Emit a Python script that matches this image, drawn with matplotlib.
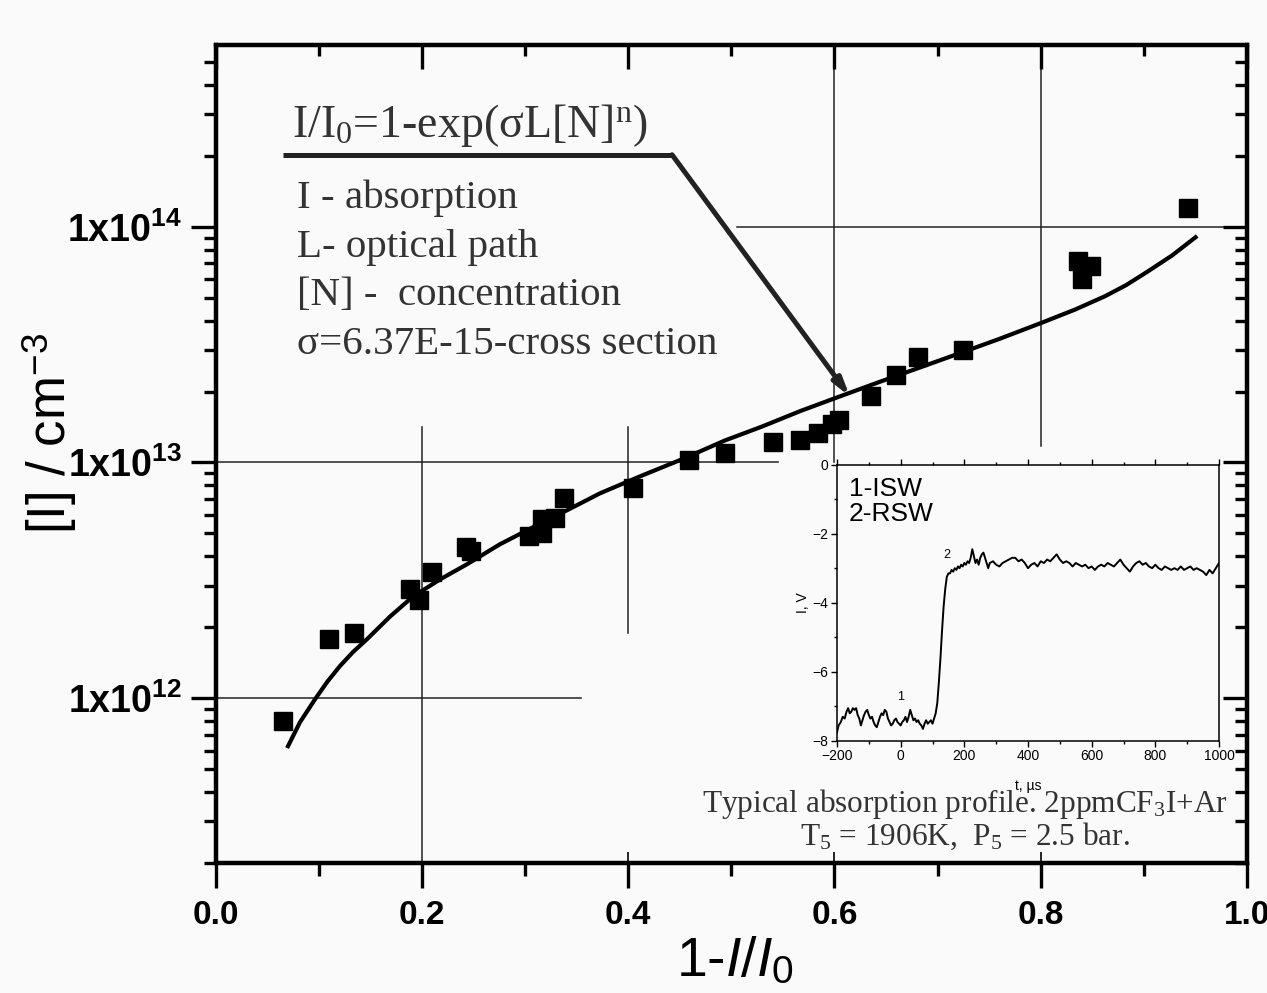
import numpy as np
import matplotlib.pyplot as plt
from matplotlib.ticker import LogLocator, NullFormatter, MultipleLocator

plt.rcParams.update({
    'font.family': 'Liberation Sans',
    'mathtext.fontset': 'custom',
    'mathtext.rm': 'Liberation Serif',
    'mathtext.it': 'Liberation Sans:italic',
    'mathtext.bf': 'Liberation Sans:bold',
    'mathtext.sf': 'Liberation Sans',
    'mathtext.default': 'rm',
})

# measured points (1 - I/I0, [I] cm^-3)
x_pts = [0.065, 0.110, 0.134, 0.189, 0.197, 0.210, 0.243, 0.248, 0.304, 0.317, 0.317,
         0.329, 0.338, 0.405, 0.459, 0.494, 0.540, 0.567, 0.584, 0.598, 0.604, 0.635,
         0.660, 0.681, 0.725, 0.836, 0.840, 0.849, 0.943]
y_pts = [8.0e11, 1.78e12, 1.9e12, 2.9e12, 2.6e12, 3.42e12, 4.4e12, 4.2e12, 4.86e12, 5.74e12,
         5.0e12, 5.8e12, 7.1e12, 7.8e12, 1.02e13, 1.10e13, 1.22e13, 1.24e13, 1.33e13, 1.45e13,
         1.51e13, 1.92e13, 2.36e13, 2.81e13, 3.01e13, 7.18e13, 6.02e13, 6.83e13, 1.20e14]

# fitted curve
x_fit = [0.0703, 0.0819, 0.0965, 0.1081, 0.1207, 0.1333, 0.1469, 0.1692, 0.1915, 0.2176,
         0.2438, 0.2758, 0.3078, 0.3408, 0.3728, 0.4115, 0.4542, 0.4939, 0.5298, 0.5666,
         0.6015, 0.6442, 0.6830, 0.7237, 0.7605, 0.8013, 0.8332, 0.8623, 0.8827, 0.9031,
         0.9273, 0.9501]
y_fit = [6.26e11, 7.91e11, 9.90e11, 1.17e12, 1.37e12, 1.57e12, 1.78e12, 2.22e12, 2.70e12,
         3.19e12, 3.70e12, 4.50e12, 5.31e12, 6.27e12, 7.40e12, 8.73e12, 1.04e13, 1.24e13,
         1.42e13, 1.65e13, 1.88e13, 2.20e13, 2.53e13, 2.93e13, 3.35e13, 3.92e13, 4.45e13,
         5.07e13, 5.65e13, 6.43e13, 7.55e13, 9.02e13]

# inset: typical absorption profile
t_us = [-200, -195, -188, -182, -176, -170, -165, -160, -155, -150, -145, -140, -135, -130,
        -125, -120, -115, -110, -105, -100, -95, -90, -85, -80, -75, -70, -65, -60, -55,
        -50, -45, -40, -35, -30, -25, -20, -15, -10, -5, 0, 5, 10, 15, 20, 25, 30, 35, 40,
        45, 50, 55, 60, 65, 70, 75, 80, 85, 90, 95, 100, 105, 110, 115, 120, 125, 130, 135,
        140, 145, 150, 155, 160, 165, 170, 175, 180, 185, 190, 195, 200, 205, 210, 215, 220,
        225, 230, 235, 240, 245, 250, 255, 260, 265, 270, 275, 280, 290, 300, 310, 320, 330,
        340, 350, 360, 370, 380, 390, 400, 410, 420, 430, 440, 450, 460, 470, 480, 490, 500,
        510, 520, 530, 540, 550, 560, 570, 580, 590, 600, 610, 620, 630, 640, 650, 660, 670,
        680, 690, 700, 710, 720, 730, 740, 750, 760, 770, 780, 790, 800, 810, 820, 830, 840,
        850, 860, 870, 880, 890, 900, 910, 920, 930, 940, 950, 960, 970, 980, 990, 1000]
v_sig = [-7.75, -7.55, -7.45, -7.30, -7.35, -7.15, -7.05, -7.20, -7.15, -7.05, -7.10, -7.05,
         -7.25, -7.35, -7.55, -7.40, -7.25, -7.15, -7.10, -7.25, -7.35, -7.30, -7.45, -7.55,
         -7.60, -7.45, -7.30, -7.20, -7.25, -7.10, -7.15, -7.35, -7.45, -7.55, -7.50, -7.40,
         -7.35, -7.45, -7.50, -7.55, -7.45, -7.40, -7.30, -7.45, -7.30, -7.10, -7.25, -7.40,
         -7.35, -7.45, -7.40, -7.50, -7.55, -7.65, -7.50, -7.40, -7.50, -7.45, -7.40, -7.50,
         -7.35, -7.20, -6.90, -6.30, -5.60, -4.80, -4.10, -3.60, -3.25, -3.15, -3.15, -3.05,
         -3.10, -3.00, -3.05, -2.95, -3.00, -2.90, -2.95, -2.85, -2.90, -2.80, -2.85, -2.70,
         -2.45, -2.65, -2.85, -2.75, -2.90, -2.70, -2.60, -2.55, -2.70, -2.85, -3.00, -2.85,
         -2.80, -2.90, -2.95, -2.85, -2.80, -2.75, -2.70, -2.70, -2.80, -2.75, -2.85, -3.00,
         -2.90, -2.85, -2.95, -2.80, -2.85, -2.75, -2.80, -2.70, -2.60, -2.75, -2.85, -2.80,
         -2.85, -2.95, -2.85, -2.90, -2.95, -2.90, -3.00, -2.95, -3.05, -2.95, -2.90, -2.95,
         -2.85, -2.90, -2.95, -2.85, -2.75, -2.90, -3.00, -3.10, -2.95, -2.85, -2.80, -2.90,
         -2.85, -2.95, -3.00, -2.90, -3.00, -3.05, -2.95, -3.00, -3.05, -3.00, -3.05, -2.95,
         -3.05, -3.00, -2.95, -3.05, -3.00, -3.05, -3.10, -3.20, -3.05, -3.15, -3.00, -2.85]

W, H = 1267, 993
bg = '#fafafa'
fig = plt.figure(figsize=(W / 100, H / 100), dpi=100, facecolor=bg)
ax = fig.add_axes([215.5 / W, 1 - 863 / H, (1247 - 215.5) / W, (863 - 45) / H], facecolor=bg)

ax.set_yscale('log')
ax.set_xlim(0, 1.0)
ax.set_ylim(2e11, 5.9e14)

# reference lines
lc = '#222222'
ax.axhline(1e12, 0, 0.354, color=lc, lw=1.1)
ax.axhline(1e13, 0, 0.545, color=lc, lw=1.1)
ax.axhline(1e14, 0.506, 1.0, color=lc, lw=1.1)
ax.plot([0.2, 0.2], [1.41e13, 2e11], color=lc, lw=1.1)
ax.plot([0.4, 0.4], [1.41e13, 1.9e12], color=lc, lw=1.1)
ax.plot([0.6, 0.6], [5.9e14, 1e13], color=lc, lw=1.1)
ax.plot([0.8, 0.8], [5.9e14, 1.17e13], color=lc, lw=1.1)

ax.plot(x_fit, y_fit, color='black', lw=3, zorder=3, solid_joinstyle='round')
ax.plot(x_pts, y_pts, 's', color='black', ms=12.5, zorder=4)

# annotation line + arrow
ax.plot([0.0654, 0.4426], [2.02e14, 2.02e14], color=lc, lw=3.6, solid_capstyle='butt')
ax.annotate('', xy=(0.615, 1.905e13), xytext=(0.4426, 2.02e14),
            arrowprops=dict(arrowstyle='-|>,head_length=1.0,head_width=0.28',
                            color=lc, lw=3.6, shrinkA=0, shrinkB=0))

# ticks
ax.set_xticks([0.0, 0.2, 0.4, 0.6, 0.8, 1.0])
ax.xaxis.set_minor_locator(MultipleLocator(0.1))
ax.set_xticklabels(['0.0', '0.2', '0.4', '0.6', '0.8', '1.0'], fontweight='bold', fontsize=24)
ax.set_yticks([1e12, 1e13, 1e14])
ax.set_yticklabels([r'$\mathbf{1x10^{12}}$', r'$\mathbf{1x10^{13}}$', r'$\mathbf{1x10^{14}}$'],
                   fontsize=27)
ax.yaxis.set_minor_locator(LogLocator(subs=range(2, 10)))
ax.yaxis.set_minor_formatter(NullFormatter())
ax.tick_params(which='major', direction='out', length=18, width=2.4, top=False, right=False)
ax.tick_params(which='minor', direction='out', length=9, width=2.4, top=False, right=False)
ax.tick_params(axis='x', pad=9)
ax.tick_params(axis='y', pad=6)
for s in ax.spines.values():
    s.set_linewidth(3)

axt = ax.twiny()
axt.set_xlim(0, 1.0)
axt.set_xticks([0.0, 0.2, 0.4, 0.6, 0.8, 1.0])
axt.xaxis.set_minor_locator(MultipleLocator(0.1))
axt.tick_params(which='major', direction='in', length=17, width=2.4, labeltop=False)
axt.tick_params(which='minor', direction='in', length=8, width=2.4)
axr = ax.twinx()
axr.set_yscale('log')
axr.set_ylim(2e11, 5.9e14)
axr.set_yticks([1e12, 1e13, 1e14])
axr.yaxis.set_minor_locator(LogLocator(subs=range(2, 10)))
axr.yaxis.set_minor_formatter(NullFormatter())
axr.tick_params(which='major', direction='in', length=17, width=2.4, labelright=False)
axr.tick_params(which='minor', direction='in', length=9, width=2.4)
for a in (axt, axr):
    a.patch.set_visible(False)
    for s in a.spines.values():
        s.set_linewidth(3)

sec = ax.secondary_xaxis('bottom')
sec.set_xticks([0.4, 0.6, 0.8])
sec.tick_params(direction='in', length=8, width=1.2, labelbottom=False)

# axis labels
fig.text(50 / W, 1 - 433 / H, r'[I] / cm$^{\mathsf{-3}}$', rotation=90, fontsize=38,
         ha='center', va='center')
fig.text(735 / W, 1 - 962 / H, r'1-$\mathit{I}$/$\mathit{I}_{\mathsf{0}}$', fontsize=40,
         ha='center', va='center')

# annotation texts
tc = '#333333'
fig.text(292 / W, 1 - 137 / H, r'I/I$_0$=1-exp($\sigma$L[N]$^n$)', fontsize=33,
         family='Liberation Serif', color=tc, va='baseline')
body = ['I - absorption', 'L- optical path', '[N] -  concentration', 'σ=6.37E-15-cross section']
for i, line in enumerate(body):
    fig.text(297 / W, 1 - (208 + 48.5 * i) / H, line, fontsize=29.5,
             family='Liberation Serif', color=tc, va='baseline')
fig.text(965 / W, 1 - 812 / H, r'Typical absorption profile. 2ppmCF$_3$I+Ar', fontsize=22.5,
         family='Liberation Serif', color=tc, ha='center', va='baseline')
fig.text(965 / W, 1 - 845 / H, r'T$_5$ = 1906K,  P$_5$ = 2.5 bar.', fontsize=22.5,
         family='Liberation Serif', color=tc, ha='center', va='baseline')

# inset
axi = fig.add_axes([837 / W, 1 - 741 / H, (1219 - 837) / W, (741 - 464.5) / H], facecolor=bg)
axi.plot(t_us, v_sig, color='black', lw=1.4)
axi.set_xlim(-200, 1000)
axi.set_ylim(-8, 0)
axi.set_xticks([-200, 0, 200, 400, 600, 800, 1000])
axi.set_yticks([-8, -6, -4, -2, 0])
axi.xaxis.set_minor_locator(MultipleLocator(100))
axi.yaxis.set_minor_locator(MultipleLocator(1))
axi.tick_params(which='major', direction='out', length=4, width=1, labelsize=10, pad=2,
                top=True)
axi.tick_params(which='minor', direction='out', length=2.5, width=1, top=True)
for s in axi.spines.values():
    s.set_linewidth(1.1)
axi.set_xlabel('t, µs', fontsize=10, labelpad=11)
axi.set_ylabel('I, V', fontsize=10, labelpad=2)
axi.text(-162, -0.35, '1-ISW\n2-RSW', fontsize=19, va='top', linespacing=1.05)
axi.text(0, -6.8, '1', fontsize=9, ha='center')
axi.text(144, -2.7, '2', fontsize=9, ha='center')

fig.savefig('out.png', dpi=100, facecolor=bg)
